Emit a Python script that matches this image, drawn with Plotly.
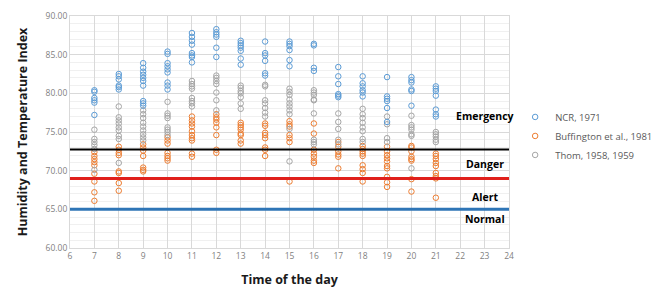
import plotly.graph_objects as go

hours = list(range(7, 22))

ncr_1971 = [
    [80.4, 80.2, 79.4, 79.1, 78.8, 77.2],
    [82.5, 82.2, 81.8, 81.0, 80.8, 80.5],
    [83.9, 83.3, 82.8, 82.4, 82.0, 81.6, 81.0, 79.0, 78.7, 78.4],
    [85.4, 85.1, 83.9, 83.5, 83.1, 82.7, 81.4, 81.0, 80.5],
    [87.8, 87.3, 86.8, 86.3, 85.2, 84.9, 84.7, 84.0],
    [88.3, 87.9, 87.6, 87.3, 85.9, 84.7],
    [86.8, 86.5, 86.2, 85.9, 85.5, 84.5, 83.7],
    [86.7, 85.2, 84.9, 84.2, 82.6, 82.3],
    [86.7, 86.4, 86.1, 85.6, 84.3, 83.5],
    [86.4, 86.2, 83.3, 82.9],
    [83.4, 82.2, 81.2, 79.9, 79.7, 79.5],
    [82.2, 81.3, 80.9, 80.4, 80.1, 79.6],
    [82.1, 79.6, 79.3, 79.0, 78.1, 76.3],
    [82.1, 81.7, 81.4, 80.5, 80.3, 78.4],
    [80.9, 80.6, 80.3, 79.7, 77.9, 77.3, 77.0],
]

buffington_1981 = [
    [72.4, 71.9, 71.5, 71.1, 70.7, 69.6, 68.6, 67.2, 66.1],
    [73.1, 72.7, 72.3, 72.0, 69.9, 69.7, 68.4, 67.4],
    [73.4, 73.0, 72.6, 71.9, 70.4, 70.1, 69.9],
    [74.3, 73.9, 73.5, 72.3, 71.9, 71.6, 71.3],
    [77.0, 76.5, 76.1, 75.7, 75.1, 74.6, 74.2, 73.9, 72.2, 71.8],
    [77.3, 76.9, 76.6, 76.2, 75.6, 74.6, 72.7, 72.3],
    [76.2, 75.9, 75.6, 75.3, 74.8, 74.6, 73.9, 73.5],
    [76.1, 75.8, 74.9, 74.6, 74.2, 73.0, 72.7, 71.9],
    [76.4, 76.0, 75.7, 74.6, 74.2, 73.7, 68.6],
    [76.1, 74.8, 72.7, 72.2, 71.8, 71.3, 71.0],
    [73.7, 73.1, 72.5, 72.1, 71.8, 70.3],
    [73.2, 72.8, 72.5, 72.2, 71.9, 70.7, 70.2, 69.7, 68.6],
    [73.1, 72.5, 72.0, 71.6, 71.2, 70.6, 70.3, 69.2, 68.5, 67.9],
    [73.2, 73.0, 72.5, 71.8, 71.5, 71.3, 68.9, 67.3],
    [72.2, 71.9, 71.5, 71.0, 70.6, 69.7, 69.3, 69.0, 66.5],
]

thom_1958_1959 = [
    [75.3, 74.1, 73.7, 73.3, 72.8, 70.1],
    [78.3, 76.9, 76.5, 76.1, 75.6, 75.2, 74.5, 74.1, 71.0],
    [77.8, 77.3, 76.8, 76.2, 75.7, 75.2, 74.7, 74.3, 73.9],
    [78.9, 77.4, 77.1, 76.8, 75.6, 75.3, 75.0, 74.6],
    [81.6, 81.2, 80.9, 80.6, 79.4, 79.0, 78.7, 78.3],
    [82.3, 82.0, 81.6, 81.2, 80.1, 79.1, 77.8],
    [81.0, 80.7, 80.3, 80.0, 79.5, 78.7, 78.0],
    [81.1, 80.9, 79.1, 78.7, 78.1, 77.5, 77.0],
    [80.6, 80.2, 79.8, 79.2, 78.7, 78.3, 77.8, 77.3, 75.4, 71.2],
    [80.4, 80.1, 79.8, 79.2, 79.1, 77.4, 74.0, 73.7, 73.4],
    [77.4, 76.3, 75.4, 74.0, 73.4],
    [78.0, 77.3, 76.8, 76.2, 75.6, 75.1, 74.1, 73.7],
    [77.0, 76.0, 74.2, 73.7],
    [77.1, 75.9, 75.6, 75.3, 74.7, 74.5, 70.3],
    [75.0, 74.7, 74.4, 74.0, 73.7],
]

series_names = ["NCR, 1971", "Buffington et al., 1981", "Thom, 1958, 1959"]
series_colors = ["#5B9BD5", "#ED7D31", "#A5A5A5"]

threshold_values = [72.75, 69.0, 65.0]
threshold_colors = ["#000000", "#E0201B", "#2E75B6"]
threshold_widths = [2, 3, 3]

zone_labels = ["Emergency", "Danger", "Alert", "Normal"]
zone_label_y = [77.1, 70.8, 66.6, 63.7]
zone_label_x = 23

fig = go.Figure()

for name, color, data, rank in [
    (series_names[1], series_colors[1], buffington_1981, 2),
    (series_names[2], series_colors[2], thom_1958_1959, 3),
    (series_names[0], series_colors[0], ncr_1971, 1),
]:
    xs, ys = [], []
    for h, vals in zip(hours, data):
        xs.extend([h] * len(vals))
        ys.extend(vals)
    fig.add_trace(go.Scatter(
        x=xs, y=ys, mode="markers", name=name, legendrank=rank,
        marker=dict(symbol="circle-open", size=5.5, color=color, line=dict(width=1, color=color)),
    ))

for v, c, w in zip(threshold_values, threshold_colors, threshold_widths):
    fig.add_shape(type="line", xref="x", yref="y", x0=6, x1=24, y0=v, y1=v,
                  line=dict(color=c, width=w), layer="above")

for t, yv in zip(zone_labels, zone_label_y):
    fig.add_annotation(x=zone_label_x, y=yv, text="<b>" + t + "</b>", showarrow=False,
                       font=dict(family="Open Sans", size=10.5, color="#000000"),
                       xanchor="center", yanchor="middle")

# page body adds an 8px offset; figure sized to fit the 670x291 window
fig.update_layout(
    width=662, height=283,
    margin=dict(l=62, r=161, t=8, b=43, autoexpand=False),
    paper_bgcolor="white", plot_bgcolor="white",
    font=dict(family="Open Sans", color="#7F7F7F"),
    legend=dict(x=1.014, xanchor="left", y=0.483, yanchor="middle",
                font=dict(family="Open Sans", size=9.5, color="#595959"),
                traceorder="normal", tracegroupgap=0, itemsizing="trace"),
    showlegend=True,
    xaxis=dict(
        range=[6, 24], dtick=1, tick0=6, showgrid=True, gridcolor="#D9D9D9", gridwidth=1,
        zeroline=False, showline=True, linecolor="#D9D9D9", mirror=True, automargin=False,
        ticks="", tickfont=dict(family="Open Sans", size=8.5, color="#7F7F7F"),
        title=dict(text="<b>Time of the day</b>", font=dict(family="Open Sans", size=12.5, color="#1A1A1A")),
    ),
    yaxis=dict(
        range=[60, 90], dtick=5, tick0=60, tickformat=".2f", showgrid=True, gridcolor="#D9D9D9", gridwidth=1,
        zeroline=False, showline=True, linecolor="#D9D9D9", mirror=True, automargin=False,
        ticks="", tickfont=dict(family="Open Sans", size=8.5, color="#7F7F7F"),
        minor=dict(dtick=1, showgrid=True, gridcolor="#F0F0F0", gridwidth=1),
        title=dict(text="<b>Humidity and Temperature Index</b>", font=dict(family="Open Sans", size=12.5, color="#1A1A1A")),
    ),
)

fig.write_html("out.html")
